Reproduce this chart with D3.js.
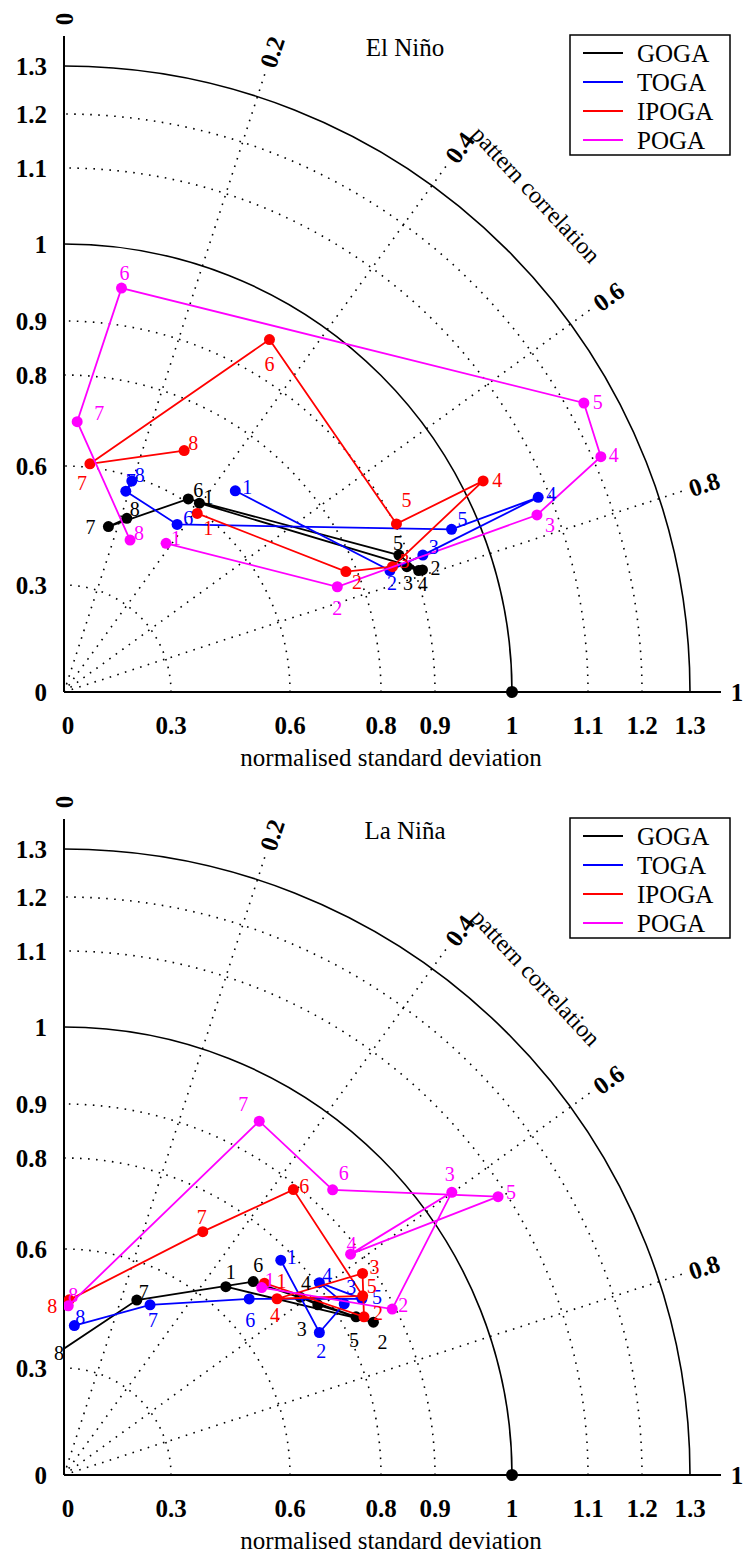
<!DOCTYPE html>
<html>
<head>
<meta charset="utf-8">
<script src="https://cdn.jsdelivr.net/npm/d3@7"></script>
<style>
  body { margin: 0; background: #fff; }
  text { font-family: "Liberation Serif", "Times New Roman", serif; fill: #000; }
</style>
</head>
<body>
<div id="chart"></div>
<script>
// Axis ticks
const stdTicks = [0, 0.3, 0.6, 0.8, 0.9, 1, 1.1, 1.2, 1.3];
const corrTicks = [0, 0.2, 0.4, 0.6, 0.8, 1];
const models = ["GOGA", "TOGA", "IPOGA", "POGA"];
const colors = ["#000000", "#0000ff", "#ff0000", "#ff00ff"];
const members = [1, 2, 3, 4, 5, 6, 7, 8];

// El Nino: normalised std and pattern correlation per member
const ninoGogaStd  = [0.614, 0.910, 0.889, 0.905, 0.883, 0.608, 0.462, 0.496];
const ninoGogaCorr = [0.396, 0.791, 0.777, 0.790, 0.753, 0.364, 0.167, 0.221];
const ninoTogaStd  = [0.684, 0.857, 0.917, 1.085, 0.964, 0.540, 0.560, 0.589];
const ninoTogaCorr = [0.449, 0.773, 0.768, 0.752, 0.747, 0.378, 0.190, 0.198];
const ninoIpogaStd  = [0.592, 0.777, 0.864, 1.028, 0.902, 0.948, 0.608, 0.696];
const ninoIpogaCorr = [0.408, 0.743, 0.768, 0.703, 0.702, 0.336, 0.072, 0.294];
const ninoPogaStd  = [0.485, 0.747, 1.075, 1.217, 1.235, 0.948, 0.698, 0.448];
const ninoPogaCorr = [0.383, 0.766, 0.772, 0.737, 0.677, 0.090, 0.031, 0.261];

// La Nina
const ninaGogaStd  = [0.649, 0.852, 0.775, 0.753, 0.828, 0.698, 0.508, 0.333];
const ninaGogaCorr = [0.452, 0.708, 0.624, 0.589, 0.684, 0.493, 0.251, -0.053];
const ninaTogaStd  = [0.774, 0.746, 0.821, 0.805, 0.854, 0.665, 0.511, 0.408];
const ninaTogaCorr = [0.503, 0.676, 0.651, 0.589, 0.660, 0.516, 0.298, 0.044];
const ninaIpogaStd  = [0.713, 0.841, 0.880, 0.711, 0.858, 0.891, 0.719, 0.472];
const ninaIpogaCorr = [0.514, 0.691, 0.622, 0.560, 0.656, 0.431, 0.330, 0.019];
const ninaPogaStd  = [0.702, 0.894, 1.042, 0.883, 1.089, 0.927, 0.943, 0.457];
const ninaPogaCorr = [0.517, 0.702, 0.599, 0.582, 0.637, 0.481, 0.321, 0.016];

// layout: pixel radius of each std tick (the radial axis is not linear)
const radialStops = [0, 107, 226, 317, 371, 448, 524, 578, 626];

// layout: where each member number sits relative to its dot
const ninoNudge = [
  [[9,-6],[13,-2],[1,16],[4,13],[-1,-12],[10,-9],[-18,0],[8,-9]],
  [[12,-4],[2,12],[11,-8],[13,-3],[11,-10],[11,-6],[5,-10],[8,-6]],
  [[11,15],[11,10],[12,-6],[14,-1],[10,-24],[0,24],[-8,19],[9,-8]],
  [[10,-5],[0,21],[13,10],[13,-2],[14,-1],[3,-15],[22,-9],[9,-7]]
];
const ninaNudge = [
  [[5,-15],[9,20],[-16,24],[6,-14],[-2,23],[5,-17],[7,-8],[5,-2]],
  [[11,-3],[2,18],[7,-17],[8,-8],[15,-2],[1,21],[3,15],[6,-9]],
  [[17,-2],[14,-4],[12,-6],[-2,16],[9,-10],[11,-4],[-1,-15],[-17,6]],
  [[8,-8],[11,-4],[-2,-18],[1,-10],[13,-5],[11,-17],[-16,-17],[5,-11]]
];

const width = 746, height = 1555;
const ox = 64;

const svg = d3.select("#chart").append("svg")
  .attr("width", width)
  .attr("height", height);

const r = d3.scaleLinear().domain(stdTicks).range(radialStops);
const ang = d3.scaleLinear().domain([0, 1]).range([Math.PI / 2, 0]);
const pos = (s, c) => [r(s) * Math.cos(ang(c)), -r(s) * Math.sin(ang(c))];

function quarterArc(R) {
  const p = d3.path();
  p.moveTo(R, 0);
  p.arc(0, 0, R, 0, -Math.PI / 2, true);
  return p.toString();
}

function drawPanel(oy, title, stds, corrs, nudges, id) {
  const g = svg.append("g").attr("transform", `translate(${ox},${oy})`);
  const rOuter = 652;

  // dotted grid
  g.selectAll(".garc")
    .data(stdTicks.filter(v => v > 0 && v !== 1 && v !== 1.3))
    .enter().append("path")
    .attr("d", v => quarterArc(r(v)))
    .attr("fill", "none").attr("stroke", "#000")
    .attr("stroke-width", 1.6).attr("stroke-dasharray", "1.6 6.4");

  g.selectAll(".ray")
    .data(corrTicks.filter(c => c > 0 && c < 1))
    .enter().append("line")
    .attr("x1", 0).attr("y1", 0)
    .attr("x2", c => rOuter * Math.cos(ang(c)))
    .attr("y2", c => -rOuter * Math.sin(ang(c)))
    .attr("stroke", "#000")
    .attr("stroke-width", 1.6).attr("stroke-dasharray", "1.6 6.4");

  // solid arcs
  g.selectAll(".sarc")
    .data([1, 1.3])
    .enter().append("path")
    .attr("d", v => quarterArc(r(v)))
    .attr("fill", "none").attr("stroke", "#000").attr("stroke-width", 1.6);

  // axes
  g.append("line").attr("x1", 0).attr("y1", 0).attr("x2", 0).attr("y2", -656)
    .attr("stroke", "#000").attr("stroke-width", 2);
  g.append("line").attr("x1", 0).attr("y1", 0).attr("x2", 657).attr("y2", 0)
    .attr("stroke", "#000").attr("stroke-width", 2);

  // std tick labels
  g.selectAll(".ylab")
    .data(stdTicks)
    .enter().append("text")
    .attr("x", -17).attr("y", v => -r(v)).attr("dy", "0.35em")
    .attr("text-anchor", "end")
    .style("font-size", "25px").style("font-weight", "bold")
    .text(v => v);

  g.selectAll(".xlab")
    .data(stdTicks)
    .enter().append("text")
    .attr("x", v => r(v) + (v === 0 ? 4 : 0)).attr("y", 33).attr("dy", "0.35em")
    .attr("text-anchor", "middle")
    .style("font-size", "25px").style("font-weight", "bold")
    .text(v => v);

  // correlation labels
  g.selectAll(".clab")
    .data(corrTicks)
    .enter().append("text")
    .attr("transform", c => {
      const a = ang(c);
      return `translate(${673 * Math.cos(a)},${-673 * Math.sin(a)}) rotate(${-a * 180 / Math.PI})`;
    })
    .attr("dy", "0.35em")
    .attr("text-anchor", "middle")
    .style("font-size", "25px").style("font-weight", "bold")
    .text(c => c);

  g.append("text")
    .attr("transform", () => {
      const a = 46.5 * Math.PI / 180;
      return `translate(${686 * Math.cos(a)},${-686 * Math.sin(a)}) rotate(47)`;
    })
    .attr("dy", "0.35em")
    .attr("text-anchor", "middle")
    .style("font-size", "24px")
    .text("pattern correlation");

  g.append("text")
    .attr("x", 327).attr("y", 65).attr("dy", "0.35em")
    .attr("text-anchor", "middle")
    .style("font-size", "25px")
    .text("normalised standard deviation");

  // reference point
  const ref = pos(1, 1);
  g.append("circle").attr("cx", ref[0]).attr("cy", ref[1]).attr("r", 6).attr("fill", "#000");

  // series
  g.append("clipPath").attr("id", id)
    .append("rect").attr("x", 0).attr("y", -700).attr("width", 720).attr("height", 705);

  const marks = g.append("g").attr("clip-path", `url(#${id})`);
  const labels = g.append("g");

  models.forEach((m, i) => {
    const pts = members.map((n, j) => pos(stds[i][j], corrs[i][j]));
    marks.append("path")
      .attr("d", d3.line()(pts))
      .attr("fill", "none").attr("stroke", colors[i]).attr("stroke-width", 1.8);
    marks.selectAll(".dot" + i)
      .data(pts)
      .enter().append("circle")
      .attr("cx", d => d[0]).attr("cy", d => d[1]).attr("r", 5.5)
      .attr("fill", colors[i]);
    labels.selectAll(".lab" + i)
      .data(members)
      .enter().append("text")
      .attr("x", (n, j) => pts[j][0] + nudges[i][j][0])
      .attr("y", (n, j) => pts[j][1] + nudges[i][j][1])
      .attr("dy", "0.35em")
      .attr("text-anchor", "middle")
      .style("font-size", "20px")
      .style("fill", colors[i])
      .text(n => n);
  });

  // title
  g.append("text")
    .attr("x", 341).attr("y", -645).attr("dy", "0.35em")
    .attr("text-anchor", "middle")
    .style("font-size", "25px")
    .text(title);

  // legend
  const lg = g.append("g").attr("transform", "translate(506,-657)");
  lg.append("rect").attr("width", 160).attr("height", 120)
    .attr("fill", "#fff").attr("stroke", "#000").attr("stroke-width", 1.5);
  models.forEach((m, i) => {
    const y = 18 + i * 29;
    lg.append("line").attr("x1", 13).attr("x2", 53).attr("y1", y).attr("y2", y)
      .attr("stroke", colors[i]).attr("stroke-width", 1.8);
    lg.append("text").attr("x", 67).attr("y", y).attr("dy", "0.35em")
      .style("font-size", "25px").text(m);
  });
}

drawPanel(692, "El Niño",
  [ninoGogaStd, ninoTogaStd, ninoIpogaStd, ninoPogaStd],
  [ninoGogaCorr, ninoTogaCorr, ninoIpogaCorr, ninoPogaCorr],
  ninoNudge, "clipNino");

drawPanel(1475, "La Niña",
  [ninaGogaStd, ninaTogaStd, ninaIpogaStd, ninaPogaStd],
  [ninaGogaCorr, ninaTogaCorr, ninaIpogaCorr, ninaPogaCorr],
  ninaNudge, "clipNina");
</script>
</body>
</html>
